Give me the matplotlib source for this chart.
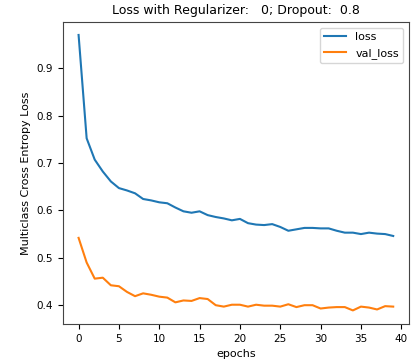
import matplotlib
matplotlib.use("Agg")
import matplotlib.pyplot as plt

epochs = list(range(40))
loss = [0.970, 0.752, 0.707, 0.682, 0.661, 0.647, 0.642, 0.636, 0.624, 0.621,
        0.617, 0.615, 0.606, 0.598, 0.595, 0.598, 0.590, 0.586, 0.583, 0.579,
        0.582, 0.573, 0.570, 0.569, 0.571, 0.565, 0.557, 0.560, 0.563, 0.563,
        0.562, 0.562, 0.557, 0.553, 0.553, 0.550, 0.553, 0.551, 0.550, 0.546]
val_loss = [0.542, 0.490, 0.456, 0.458, 0.442, 0.440, 0.428, 0.419, 0.425, 0.422,
            0.418, 0.416, 0.406, 0.410, 0.409, 0.415, 0.413, 0.400, 0.397, 0.401,
            0.401, 0.397, 0.401, 0.399, 0.399, 0.397, 0.402, 0.396, 0.400, 0.400,
            0.393, 0.395, 0.396, 0.396, 0.389, 0.397, 0.395, 0.391, 0.398, 0.397]

fig = plt.figure(figsize=(4.19, 3.63), dpi=100)
ax = fig.add_axes([0.150, 0.107, 0.826, 0.832])
ax.plot(epochs, loss, label="loss", lw=1.5)
ax.plot(epochs, val_loss, label="val_loss", lw=1.5)
ax.set_ylim(0.360, 0.997)
ax.set_title("Loss with Regularizer:   0; Dropout:  0.8", fontsize=9)
ax.set_xlabel("epochs", fontsize=8)
ax.set_ylabel("Multiclass Cross Entropy Loss", fontsize=8)
ax.tick_params(labelsize=7.5)
for s in ax.spines.values():
    s.set_edgecolor("#444444")
ax.legend(fontsize=8)
fig.savefig("out.png", dpi=100)
